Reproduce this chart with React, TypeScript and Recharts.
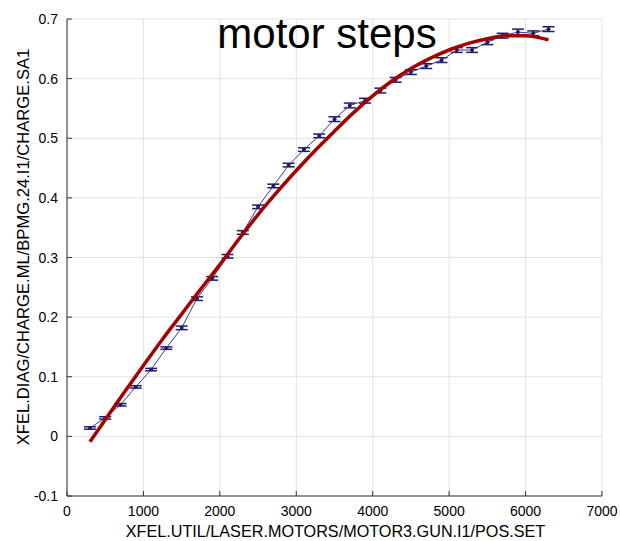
import React from "react";
import { ScatterChart, Scatter, XAxis, YAxis, CartesianGrid, ErrorBar, Label } from "recharts";

// measured points (motor position vs. charge)
const motorSteps = [
  300, 500, 700, 900, 1100, 1300, 1500, 1700, 1900, 2100, 2300, 2500, 2700, 2900, 3100, 3300,
  3500, 3700, 3900, 4100, 4300, 4500, 4700, 4900, 5100, 5300, 5500, 5700, 5900, 6100, 6300,
];
const charge = [
  0.014, 0.031, 0.053, 0.083, 0.112, 0.148, 0.182, 0.231, 0.265, 0.302, 0.342, 0.385, 0.42, 0.455,
  0.481, 0.504, 0.532, 0.555, 0.563, 0.58, 0.598, 0.611, 0.621, 0.631, 0.648, 0.648, 0.661, 0.672,
  0.678, 0.676, 0.683,
];
const chargeErr = [
  0.002, 0.002, 0.002, 0.002, 0.002, 0.002, 0.003, 0.003, 0.003, 0.003, 0.003, 0.003, 0.003, 0.003,
  0.003, 0.003, 0.004, 0.004, 0.004, 0.004, 0.004, 0.004, 0.004, 0.004, 0.004, 0.004, 0.004, 0.004,
  0.005, 0.004, 0.004,
];

// fit curve
const fitSteps = [
  300, 500, 750, 1000, 1250, 1500, 1750, 2000, 2250, 2500, 2750, 3000, 3250, 3500, 3750, 4000,
  4250, 4500, 4750, 5000, 5250, 5500, 5750, 6000, 6300,
];
const fitCharge = [
  -0.009, 0.028, 0.074, 0.119, 0.163, 0.205, 0.247, 0.288, 0.331, 0.372, 0.41, 0.446, 0.48, 0.512,
  0.543, 0.571, 0.596, 0.617, 0.634, 0.648, 0.659, 0.667, 0.672, 0.672, 0.665,
];

const xTicks = [0, 1000, 2000, 3000, 4000, 5000, 6000, 7000];
const yTicks = [-0.1, 0, 0.1, 0.2, 0.3, 0.4, 0.5, 0.6, 0.7];

const title = "motor steps";
const xLabel = "XFEL.UTIL/LASER.MOTORS/MOTOR3.GUN.I1/POS.SET";
const yLabel = "XFEL.DIAG/CHARGE.ML/BPMG.24.I1/CHARGE.SA1";

const points = motorSteps.map((x, i) => ({ x, y: charge[i], err: chargeErr[i] }));
const fit = fitSteps.map((x, i) => ({ x, y: fitCharge[i] }));

const FONT = '"Liberation Sans", Arial, sans-serif';
const NAVY = "#1c1c6b";

const YTick = (props: any) => {
  const { x, y, payload } = props;
  return (
    <g>
      <line x1={x} x2={x + 5} y1={y} y2={y} stroke="#333" />
      <text x={x - 9} y={y + 5} textAnchor="end" fontSize={14} fontFamily={FONT} fill="#000">
        {payload.value}
      </text>
    </g>
  );
};

const XTick = (props: any) => {
  const { x, y, payload } = props;
  return (
    <g>
      <line x1={x} x2={x} y1={y} y2={y - 5} stroke="#333" />
      <text x={x} y={y + 20} textAnchor="middle" fontSize={14} fontFamily={FONT} fill="#000">
        {payload.value}
      </text>
    </g>
  );
};

const Dot = (props: any) => <circle cx={props.cx} cy={props.cy} r={2} fill={NAVY} />;

export default function App() {
  return (
    <div style={{ position: "relative", width: 620, height: 541 }}>
      {/* drop the default body margin so the chart uses the whole window */}
      <style>{"html,body{margin:0;padding:0;overflow:hidden}"}</style>
      <ScatterChart width={620} height={541} margin={{ top: 19, right: 18, bottom: 0, left: 0 }}>
        <CartesianGrid stroke="#e2e2e2" />
        <XAxis
          type="number"
          dataKey="x"
          domain={[0, 7000]}
          ticks={xTicks}
          height={45}
          tickSize={0}
          tickMargin={0}
          tickLine={false}
          tick={<XTick />}
          axisLine={{ stroke: "#333" }}
          allowDataOverflow
        >
          <Label
            content={(p: any) => (
              <text
                x={p.viewBox.x + p.viewBox.width / 2 + 1}
                y={p.viewBox.y + 41}
                textAnchor="middle"
                fontSize={16.2}
                fontFamily={FONT}
                fill="#000"
              >
                {xLabel}
              </text>
            )}
          />
        </XAxis>
        <YAxis
          type="number"
          dataKey="y"
          domain={[-0.1, 0.7]}
          ticks={yTicks}
          width={67}
          tickSize={0}
          tickMargin={0}
          tickLine={false}
          tick={<YTick />}
          axisLine={{ stroke: "#333" }}
          allowDataOverflow
        >
          <Label
            content={() => (
              <text
                x={29}
                y={247}
                transform="rotate(-90 29 247)"
                textAnchor="middle"
                fontSize={16.6}
                fontFamily={FONT}
                fill="#000"
              >
                {yLabel}
              </text>
            )}
          />
        </YAxis>
        <Scatter
          data={points}
          line={{ stroke: "#3a3a8a", strokeWidth: 1 }}
          shape={<Dot />}
          isAnimationActive={false}
        >
          <ErrorBar dataKey="err" direction="y" width={6} stroke={NAVY} strokeWidth={1.5} isAnimationActive={false} />
        </Scatter>
        <Scatter
          data={fit}
          line={{ stroke: "#a50000", strokeWidth: 3.5 }}
          lineJointType="monotoneX"
          shape={() => <g />}
          isAnimationActive={false}
        />
      </ScatterChart>
      <svg width={620} height={70} style={{ position: "absolute", left: 0, top: 0, pointerEvents: "none" }}>
        <text x={327} y={48} textAnchor="middle" fontSize={42} fontFamily={FONT} fill="#000">
          {title}
        </text>
      </svg>
    </div>
  );
}
